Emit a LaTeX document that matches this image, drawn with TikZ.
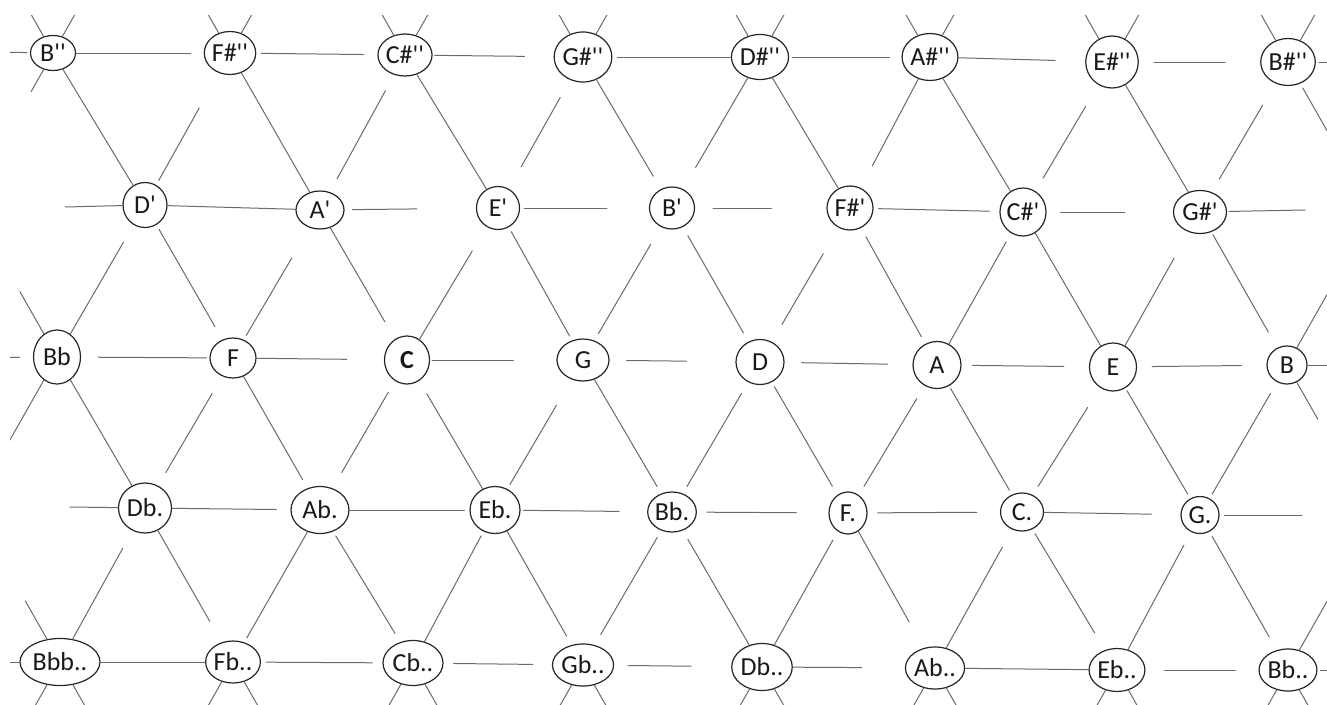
\documentclass[tikz,border=0pt]{standalone}
\usepackage{fontspec}
\newfontfamily\lab{Carlito}
\usetikzlibrary{shapes.geometric}
\tikzset{
 nd/.style={ellipse, draw=black!85, line width=1.2pt, inner sep=0pt, font=\lab\fontsize{26}{30}\selectfont, text=black!90},
 ln/.style={draw=black!58, line width=1pt, line cap=round},
}
\newcommand\nn[6]{\node[nd,minimum width=#4pt,minimum height=#5pt] (#1) at (#2,#3) {#6};}
\newcommand\lnk[4]{\draw[ln,shorten <=#3pt,shorten >=#4pt] (#1) -- (#2);}
\begin{document}
\begin{tikzpicture}[x=1pt,y=-1pt]
\useasboundingbox (0,0) rectangle (1327,704);
\fill[white] (0,0) rectangle (1327,704);
% row 1
\nn{a0}{53}{53}{45}{35}{B''}
\nn{a1}{230}{53}{44}{43}{F\#''}
\nn{a2}{405}{55}{48}{42}{C\#''}
\nn{a3}{583}{57}{55}{50}{G\#''}
\nn{a4}{760}{57}{44}{45}{D\#''}
\nn{a5}{930}{57}{52}{47}{A\#''}
\nn{a6}{1112}{62}{47}{52}{E\#''}
\nn{a7}{1288}{62}{52}{47}{B\#''}
% row 2
\nn{b0}{145}{205}{44}{45}{D'}
\nn{b1}{320}{210}{48}{38}{A'}
\nn{b2}{498}{208}{43}{43}{E'}
\nn{b3}{672}{208}{45}{42}{B'}
\nn{b4}{850}{208}{46}{44}{F\#'}
\nn{b5}{1023}{212}{42}{48}{C\#'}
\nn{b6}{1200}{212}{53}{43}{G\#'}
% row 3
\nn{c0}{57}{357}{47}{54}{Bb}
\nn{c1}{233}{358}{46}{40}{F}
\nn{c2}{407}{360}{45}{48}{\textbf{C}}
\nn{c3}{583}{360}{52}{42}{G}
\nn{c4}{760}{362}{48}{45}{D}
\nn{c5}{937}{365}{48}{47}{A}
\nn{c6}{1113}{367}{47}{48}{E}
\nn{c7}{1287}{365}{40}{38}{B}
% row 4
\nn{d0}{145}{508}{53}{50}{Db.}
\nn{d1}{320}{510}{58}{47}{Ab.}
\nn{d2}{495}{510}{50}{47}{Eb.}
\nn{d3}{672}{512}{47}{40}{Bb.}
\nn{d4}{848}{513}{38}{42}{F.}
\nn{d5}{1022}{512}{43}{38}{C.}
\nn{d6}{1200}{515}{38}{37}{G.}
% row 5
\nn{e0}{60}{662}{80}{47}{Bbb..}
\nn{e1}{233}{662}{52}{42}{Fb..}
\nn{e2}{413}{663}{60}{45}{Cb..}
\nn{e3}{583}{665}{50}{42}{Gb..}
\nn{e4}{762}{667}{58}{47}{Db..}
\nn{e5}{935}{668}{52}{42}{Ab..}
\nn{e6}{1117}{670}{50}{43}{Eb..}
\nn{e7}{1288}{670}{50}{42}{Bb..}
% phantom ends
\foreach \n in {a0,a1,a2,a3,a4,a5,a6,a7}{\path (\n.center) ++(-88,-155) coordinate (\n ul) ++(176,0) coordinate (\n ur);}
\foreach \n in {e0,e1,e2,e3,e4,e5,e6,e7}{\path (\n.center) ++(-88,155) coordinate (\n dl) ++(176,0) coordinate (\n dr);}
\coordinate (aL) at (-130,50);
\coordinate (aR) at (1465,62);
\coordinate (a0dl) at (-35,208);
\coordinate (a7dr) at (1376,217);
\coordinate (bL) at (65,207);
\coordinate (bR) at (1305,210);
\coordinate (cL) at (-100,358);
\coordinate (cR) at (1465,365);
\coordinate (c0ul) at (-31,202);
\coordinate (c0dl) at (-31,512);
\coordinate (c7ur) at (1375,210);
\coordinate (c7dr) at (1375,520);
\coordinate (dL) at (70,507);
\coordinate (dR) at (1302,515);
\coordinate (eL) at (-100,662);
\coordinate (eR) at (1465,670);
\coordinate (e0ul) at (-28,507);
\coordinate (e7ur) at (1376,515);
\begin{scope}
\clip (10,15) rectangle (1327,704);
% top and bottom stubs
\foreach \n in {a0,a1,a2,a3,a4,a5,a6,a7}{\draw[ln] (\n) -- (\n ul); \draw[ln] (\n) -- (\n ur);}
\foreach \n in {e0,e1,e2,e3,e4,e5,e6,e7}{\draw[ln] (\n) -- (\n dl); \draw[ln] (\n) -- (\n dr);}
% row 1 horizontals
\lnk{a0}{aL}{3}{0}
\lnk{a0}{a1}{0}{13}
\lnk{a1}{a2}{5}{14}
\lnk{a2}{a3}{2}{29}
\lnk{a3}{a4}{5}{0}
\lnk{a4}{a5}{3}{12}
\lnk{a5}{a6}{0}{30}
\lnk{a6}{a7}{15}{35}
\lnk{a7}{aR}{3}{0}
% row 2 horizontals
\lnk{b0}{bL}{0}{0}
\lnk{b0}{b1}{0}{0}
\lnk{b1}{b2}{8}{59}
\lnk{b2}{b3}{4}{42}
\lnk{b3}{b4}{18}{55}
\lnk{b4}{b5}{5}{10}
\lnk{b5}{b6}{14}{48}
\lnk{b6}{bR}{2}{0}
% row 3 horizontals
\lnk{c0}{cL}{13}{0}
\lnk{c0}{c1}{17}{3}
\lnk{c1}{c2}{0}{37}
\lnk{c2}{c3}{2}{43}
\lnk{c3}{c4}{17}{49}
\lnk{c4}{c5}{17}{25}
\lnk{c5}{c6}{11}{25}
\lnk{c6}{c7}{15}{25}
\lnk{c7}{cR}{0}{0}
% row 4 horizontals
\lnk{d0}{dL}{0}{0}
\lnk{d0}{d1}{0}{14}
\lnk{d1}{d2}{0}{5}
\lnk{d2}{d3}{3}{28}
\lnk{d3}{d4}{10}{32}
\lnk{d4}{d5}{10}{23}
\lnk{d5}{d6}{0}{29}
\lnk{d6}{dR}{5}{0}
% row 5 horizontals
\lnk{e0}{eL}{0}{0}
\lnk{e0}{e1}{0}{0}
\lnk{e1}{e2}{5}{10}
\lnk{e2}{e3}{10}{19}
\lnk{e3}{e4}{14}{40}
\lnk{e4}{e5}{0}{43}
\lnk{e5}{e6}{0}{0}
\lnk{e6}{e7}{19}{23}
\lnk{e7}{eR}{3}{0}
% diagonals rows 1-2
\lnk{a0}{a0dl}{0}{134}
\lnk{a0}{b0}{0}{0}
\lnk{a1}{b0}{40}{5}
\lnk{a1}{b1}{0}{0}
\lnk{a2}{b1}{18}{15}
\lnk{a2}{b2}{0}{0}
\lnk{a3}{b2}{20}{25}
\lnk{a3}{b3}{0}{15}
\lnk{a4}{b3}{0}{25}
\lnk{a4}{b4}{0}{0}
\lnk{a5}{b4}{0}{25}
\lnk{a5}{b5}{0}{0}
\lnk{a6}{b5}{25}{15}
\lnk{a6}{b6}{0}{0}
\lnk{a7}{b6}{25}{15}
\lnk{a7}{a7dr}{5}{0}
% diagonals rows 2-3
\lnk{c0}{c0ul}{0}{103}
\lnk{b0}{c0}{20}{0}
\lnk{b0}{c1}{5}{15}
\lnk{b1}{c1}{35}{5}
\lnk{b1}{c2}{0}{20}
\lnk{b2}{c2}{28}{0}
\lnk{b2}{c3}{5}{5}
\lnk{b3}{c3}{20}{8}
\lnk{b3}{c4}{10}{10}
\lnk{b4}{c4}{30}{20}
\lnk{b4}{c5}{10}{8}
\lnk{b5}{c5}{10}{0}
\lnk{b5}{c6}{0}{0}
\lnk{b6}{c6}{30}{0}
\lnk{b6}{c7}{3}{18}
\lnk{c7}{c7ur}{0}{0}
% diagonals rows 3-4
\lnk{c0}{c0dl}{0}{0}
\lnk{c0}{d0}{0}{0}
\lnk{c1}{d0}{20}{15}
\lnk{c1}{d1}{0}{10}
\lnk{c2}{d1}{13}{18}
\lnk{c2}{d2}{15}{0}
\lnk{c3}{d2}{30}{5}
\lnk{c3}{d3}{0}{8}
\lnk{c4}{d3}{13}{8}
\lnk{c4}{d4}{5}{10}
\lnk{c5}{d4}{15}{10}
\lnk{c5}{d5}{3}{5}
\lnk{c6}{d5}{23}{10}
\lnk{c6}{d6}{3}{5}
\lnk{c7}{d6}{13}{5}
\lnk{c7}{c7dr}{0}{116}
% diagonals rows 4-5
\lnk{e0}{e0ul}{0}{108}
\lnk{d0}{e0}{20}{0}
\lnk{d0}{e1}{0}{24}
\lnk{d1}{e1}{0}{5}
\lnk{d1}{e2}{5}{10}
\lnk{d2}{e2}{5}{0}
\lnk{d2}{e3}{0}{10}
\lnk{d3}{e3}{8}{12}
\lnk{d3}{e4}{10}{0}
\lnk{d4}{e4}{10}{0}
\lnk{d4}{e5}{0}{30}
\lnk{d5}{e5}{20}{0}
\lnk{d5}{e6}{5}{20}
\lnk{d6}{e6}{15}{0}
\lnk{d6}{e7}{5}{15}
\lnk{e7}{e7ur}{0}{0}
\end{scope}
\end{tikzpicture}
\end{document}
